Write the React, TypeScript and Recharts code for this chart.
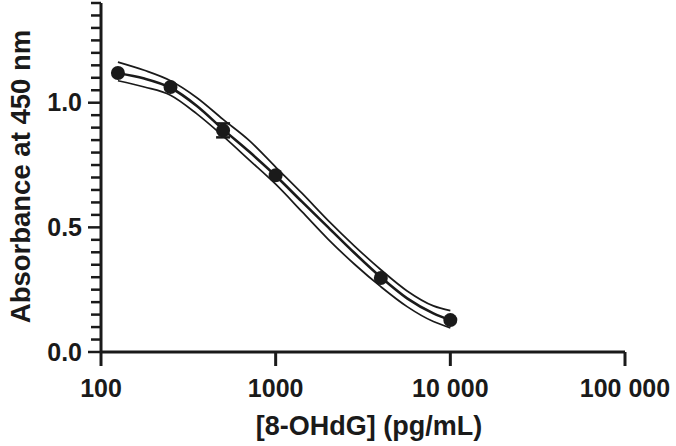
import React from 'react';
import { ComposedChart, Line, Scatter, XAxis, YAxis, ErrorBar } from 'recharts';

// Fitted curve and its confidence band
const curveX = [125, 177, 250, 354, 500, 707, 1000, 1414, 2000, 2828, 4000, 5657, 8000, 10000];
const fitY = [1.118, 1.097, 1.06, 0.987, 0.893, 0.803, 0.707, 0.603, 0.5, 0.397, 0.3, 0.215, 0.155, 0.128];
const upperY = [1.163, 1.13, 1.088, 1.02, 0.933, 0.848, 0.742, 0.637, 0.527, 0.425, 0.33, 0.245, 0.185, 0.166];
const lowerY = [1.088, 1.063, 1.03, 0.955, 0.866, 0.77, 0.673, 0.563, 0.452, 0.352, 0.262, 0.182, 0.122, 0.097];

// Measured standards (mean ± error)
const pointX = [125, 250, 500, 1000, 4000, 10000];
const pointY = [1.119, 1.063, 0.889, 0.709, 0.297, 0.128];
const pointErr = [0.01, 0.008, 0.028, 0.012, 0.01, 0.01];

// Axis ticks
const xTicks = [100, 1000, 10000, 100000];
const xTickLabels = ['100', '1000', '10 000', '100 000'];
const yTicks = [
  0, 0.05, 0.1, 0.15, 0.2, 0.25, 0.3, 0.35, 0.4, 0.45, 0.5, 0.55, 0.6, 0.65, 0.7,
  0.75, 0.8, 0.85, 0.9, 0.95, 1.0, 1.05, 1.1, 1.15, 1.2, 1.25, 1.3, 1.35, 1.4,
];
const yMajor = [0, 0.5, 1.0];
const yMajorLabels = ['0.0', '0.5', '1.0'];

const xTitle = '[8-OHdG] (pg/mL)';
const yTitle = 'Absorbance at 450 nm';

const INK = '#1a1a1a';
const FONT = '"Liberation Sans", Arial, Helvetica, sans-serif';
const DOT_R = 7;

const curveData = curveX.map((x, i) => ({ x, fit: fitY[i], upper: upperY[i], lower: lowerY[i] }));
const pointData = pointX.map((x, i) => ({ x, y: pointY[i], err: pointErr[i] }));
// error bars smaller than the symbol are hidden behind it, as in the source plot
const visibleErr = pointData.filter((p) => p.err > 0.026);

const XTick = (props: any) => {
  const { x, y, payload } = props;
  const idx = xTicks.indexOf(payload.value);
  return (
    <g>
      <line x1={x} x2={x} y1={y} y2={y + 14} stroke={INK} strokeWidth={3} />
      <text x={x} y={y + 45} textAnchor="middle" fontFamily={FONT} fontWeight="bold" fontSize={25} fill={INK}>
        {idx >= 0 ? xTickLabels[idx] : ''}
      </text>
    </g>
  );
};

const YTick = (props: any) => {
  const { x, y, payload } = props;
  const v = payload.value;
  const mi = yMajor.findIndex((m) => Math.abs(m - v) < 1e-6);
  const major = mi >= 0;
  const len = major ? 13 : 10;
  return (
    <g>
      <line x1={x} x2={x - len} y1={y} y2={y} stroke={INK} strokeWidth={2.5} />
      {major && (
        <text x={x - 19} y={y} dy="0.35em" textAnchor="end" fontFamily={FONT} fontWeight="bold" fontSize={25} fill={INK}>
          {yMajorLabels[mi]}
        </text>
      )}
    </g>
  );
};

const XTitle = (props: any) => {
  const vb = props.viewBox || { x: 0, y: 0, width: 0, height: 0 };
  return (
    <text x={vb.x + vb.width / 2 + 6} y={vb.y + 83} textAnchor="middle" fontFamily={FONT} fontWeight="bold" fontSize={27} fill={INK}>
      {xTitle}
    </text>
  );
};

const YTitle = (props: any) => {
  const vb = props.viewBox || { x: 0, y: 0, width: 0, height: 0 };
  const cx = vb.x + 20;
  const cy = vb.y + vb.height / 2 - 1;
  return (
    <text x={cx} y={cy} dy="0.35em" transform={`rotate(-90 ${cx} ${cy})`} textAnchor="middle" fontFamily={FONT} fontWeight="bold" fontSize={27.5} fill={INK}>
      {yTitle}
    </text>
  );
};

const Dot = (props: any) => <circle cx={props.cx} cy={props.cy} r={DOT_R} fill={INK} />;
const NoDot = () => <g />;

export default function App() {
  return (
    <div style={{ position: 'absolute', left: 0, top: 0, width: 676, height: 446, background: '#fff' }}>
      <ComposedChart width={676} height={446} data={curveData} margin={{ top: 3, right: 51, bottom: 0, left: 0 }}>
        <XAxis
          dataKey="x"
          type="number"
          scale="log"
          domain={[100, 100000]}
          ticks={xTicks}
          allowDataOverflow
          height={94}
          tickSize={0}
          tickMargin={0}
          tickLine={false}
          axisLine={{ stroke: INK, strokeWidth: 3 }}
          tick={<XTick />}
          interval={0}
          label={<XTitle />}
        />
        <YAxis
          type="number"
          domain={[0, 1.4]}
          ticks={yTicks}
          width={101}
          tickSize={0}
          tickMargin={0}
          tickLine={false}
          axisLine={{ stroke: INK, strokeWidth: 3 }}
          tick={<YTick />}
          interval={0}
          allowDataOverflow
          label={<YTitle />}
        />
        <Line dataKey="upper" type="monotone" stroke={INK} strokeWidth={1.7} dot={false} isAnimationActive={false} />
        <Line dataKey="lower" type="monotone" stroke={INK} strokeWidth={1.7} dot={false} isAnimationActive={false} />
        <Line dataKey="fit" type="monotone" stroke={INK} strokeWidth={2.6} dot={false} isAnimationActive={false} />
        <Scatter data={visibleErr} dataKey="y" shape={<NoDot />} isAnimationActive={false}>
          <ErrorBar dataKey="err" direction="y" width={7} stroke={INK} strokeWidth={2.5} />
        </Scatter>
        <Scatter data={pointData} dataKey="y" shape={<Dot />} isAnimationActive={false} />
      </ComposedChart>
    </div>
  );
}
